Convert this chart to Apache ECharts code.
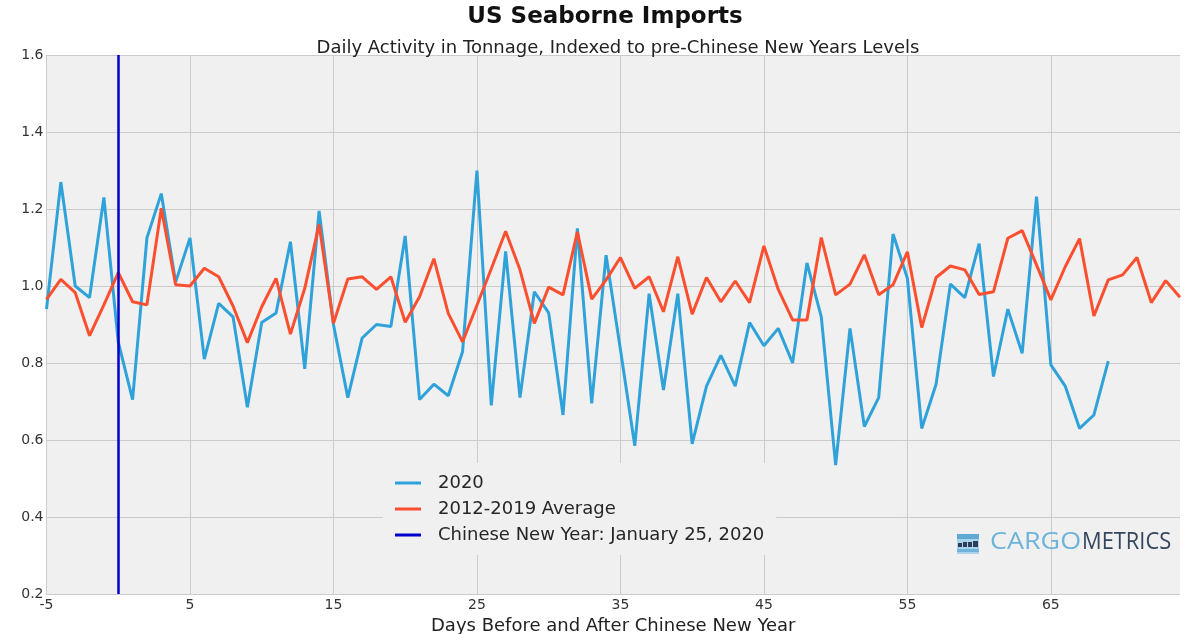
<!DOCTYPE html>
<html>
<head>
<meta charset="utf-8">
<script src="https://cdn.jsdelivr.net/npm/echarts@6/dist/echarts.min.js"></script>
<style>
html,body{margin:0;padding:0;background:#ffffff;}
#chart{width:1200px;height:634px;}
</style>
</head>
<body>
<div id="chart"></div>
<script>
// Days relative to Chinese New Year (-5 .. 74)
const days = [];
for (let d = -5; d <= 74; d++) days.push(String(d));

// 2020 daily tonnage index (days -5 .. 69)
const imports2020 = [
  0.94, 1.27, 1.00, 0.97, 1.23,
  0.855, 0.705, 1.125, 1.24, 1.01, 1.125, 0.81, 0.955, 0.92, 0.685,
  0.905, 0.93, 1.115, 0.785, 1.195, 0.90, 0.71, 0.865, 0.90, 0.895,
  1.13, 0.705, 0.745, 0.715, 0.83, 1.30, 0.69, 1.09, 0.71, 0.985,
  0.93, 0.665, 1.15, 0.695, 1.08, 0.835, 0.585, 0.98, 0.73, 0.98,
  0.59, 0.74, 0.82, 0.74, 0.905, 0.845, 0.89, 0.80, 1.06, 0.92,
  0.535, 0.89, 0.635, 0.71, 1.135, 1.02, 0.63, 0.745, 1.005, 0.97,
  1.11, 0.765, 0.94, 0.825, 1.232, 0.795, 0.74, 0.63, 0.665, 0.805
];

// 2012-2019 average (days -5 .. 74)
const avg2012_2019 = [
  0.965, 1.017, 0.983, 0.871, 0.951,
  1.035, 0.959, 0.951, 1.202, 1.003, 1.0, 1.046, 1.024, 0.948, 0.853,
  0.946, 1.02, 0.875, 0.994, 1.16, 0.903, 1.018, 1.024, 0.991, 1.024,
  0.906, 0.972, 1.071, 0.929, 0.855, 0.95, 1.045, 1.142, 1.042, 0.903,
  0.997, 0.977, 1.141, 0.966, 1.016, 1.074, 0.994, 1.024, 0.933, 1.076,
  0.927, 1.022, 0.959, 1.013, 0.957, 1.104, 0.991, 0.912, 0.912, 1.126,
  0.977, 1.005, 1.081, 0.977, 1.003, 1.089, 0.892, 1.022, 1.052, 1.042,
  0.978, 0.985, 1.124, 1.144, 1.055, 0.964, 1.05, 1.123, 0.922, 1.016,
  1.029, 1.074, 0.957, 1.014, 0.971
];

const cnyDay = '0';
const yTicks = [0.2, 0.4, 0.6, 0.8, 1.0, 1.2, 1.4, 1.6];

const FONT = 'DejaVu Sans';
const chart = echarts.init(document.getElementById('chart'), null, {renderer: 'canvas'});

const option = {
  animation: false,
  backgroundColor: '#ffffff',
  title: [
    {
      text: 'US Seaborne Imports',
      left: 600, top: 1, textAlign: 'center',
      textStyle: {fontFamily: FONT, fontWeight: 'bold', fontSize: 23, color: '#111111'}
    },
    {
      text: 'Daily Activity in Tonnage, Indexed to pre-Chinese New Years Levels',
      left: 613, top: 34, textAlign: 'center',
      textStyle: {fontFamily: FONT, fontWeight: 'normal', fontSize: 18, color: '#222222'}
    }
  ],
  grid: {
    left: 46.5, right: 20, top: 55, bottom: 40,
    outerBoundsMode: 'none', containLabel: false,
    show: true, backgroundColor: '#f0f0f0', borderWidth: 0
  },
  legend: {
    orient: 'vertical',
    left: 383, top: 463,
    backgroundColor: '#f0f0f0',
    padding: [10, 12, 10, 12],
    itemGap: 6,
    itemWidth: 26, itemHeight: 3,
    icon: 'rect',
    textStyle: {fontFamily: FONT, fontSize: 18, lineHeight: 20, color: '#262626', padding: [0, 0, 0, 12]},
    data: ['2020', '2012-2019 Average', 'Chinese New Year: January 25, 2020']
  },
  xAxis: {
    type: 'category',
    data: days,
    boundaryGap: false,
    name: 'Days Before and After Chinese New Year',
    nameLocation: 'middle',
    nameGap: 20,
    nameTextStyle: {fontFamily: FONT, fontSize: 18, color: '#222222'},
    axisLine: {show: false},
    axisTick: {show: false},
    axisLabel: {
      interval: (i) => i % 10 === 0,
      fontFamily: FONT, fontSize: 14, color: '#333333', margin: 4
    },
    splitLine: {
      show: true,
      interval: (i) => i % 10 === 0,
      lineStyle: {color: '#cbcbcb', width: 1}
    }
  },
  yAxis: {
    type: 'value',
    min: yTicks[0], max: yTicks[yTicks.length - 1], interval: 0.2,
    axisLine: {show: false},
    axisTick: {show: false},
    axisLabel: {
      formatter: (v) => v.toFixed(1),
      fontFamily: FONT, fontSize: 14, color: '#333333', margin: 3
    },
    splitLine: {show: true, lineStyle: {color: '#cbcbcb', width: 1}}
  },
  series: [
    {
      name: '2020', type: 'line', data: imports2020,
      showSymbol: false, symbol: 'none',
      lineStyle: {color: '#30a2da', width: 3}, itemStyle: {color: '#30a2da'}, z: 3
    },
    {
      name: '2012-2019 Average', type: 'line', data: avg2012_2019,
      showSymbol: false, symbol: 'none',
      lineStyle: {color: '#fc4f30', width: 3}, itemStyle: {color: '#fc4f30'}, z: 3
    },
    {
      name: 'Chinese New Year: January 25, 2020', type: 'line', data: [],
      symbol: 'none',
      lineStyle: {color: '#0000cc', width: 2.5}, itemStyle: {color: '#0000cc'},
      markLine: {
        silent: true, symbol: ['none', 'none'],
        label: {show: false},
        lineStyle: {color: '#0000cc', width: 2.5, type: 'solid'},
        data: [{xAxis: cnyDay}]
      },
      z: 4
    }
  ],
  graphic: [
    {
      type: 'group', left: 957, top: 534,
      children: [
        {type: 'rect', shape: {x: 0, y: 0, width: 22, height: 20}, style: {fill: '#a9d3ea'}},
        {type: 'rect', shape: {x: 0, y: 0, width: 22, height: 5}, style: {fill: '#5fa8d3'}},
        {type: 'rect', shape: {x: 1, y: 9, width: 4, height: 4}, style: {fill: '#2c3e57'}},
        {type: 'rect', shape: {x: 6, y: 8, width: 4, height: 5}, style: {fill: '#2c3e57'}},
        {type: 'rect', shape: {x: 11, y: 8, width: 4, height: 5}, style: {fill: '#2c3e57'}},
        {type: 'rect', shape: {x: 16, y: 7, width: 5, height: 6}, style: {fill: '#2c3e57'}},
        {type: 'rect', shape: {x: 0, y: 15, width: 22, height: 3}, style: {fill: '#6fb3da'}}
      ]
    },
    {
      type: 'text', x: 990, y: 531, scaleX: 1.17, z: 10,
      style: {text: 'CARGO', fill: '#6cb4da', font: '23px "Open Sans"'}
    },
    {
      type: 'text', x: 1082, y: 531, scaleX: 0.95, z: 10,
      style: {text: 'METRICS', fill: '#34465e', font: '23px "Open Sans"'}
    }
  ]
};
chart.setOption(option);
</script>
</body>
</html>
